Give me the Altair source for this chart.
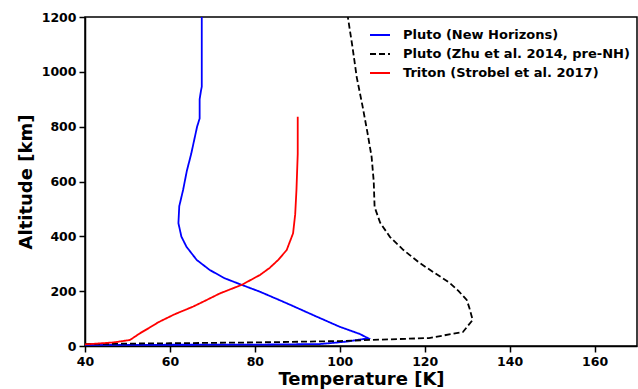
import altair as alt
import pandas as pd

# Pluto (New Horizons)
nh_T = [40, 60, 80, 95.3, 101.6, 106.7, 104.7, 100, 93.7, 87.5, 81.2, 76.9, 72.9, 69.4, 66.3, 63.9, 62.7, 62.0, 62.2, 63.1, 64.0, 65.0, 66.4, 67.0, 67.0, 67.3, 67.5, 67.5, 67.5]
nh_z = [4, 4.5, 5, 7, 16, 28, 44, 70, 113, 156, 198, 223, 247, 277, 314, 362, 399, 448, 510, 569, 640, 700, 800, 830, 900, 930, 946, 1050, 1200]

# Pluto (Zhu et al. 2014, pre-NH)
zhu_T = [40, 45, 60, 80, 100, 107, 121, 129, 131.3, 130.5, 129.9, 128, 125.9, 122, 118.8, 115, 111.8, 109.5, 108.2, 108, 107.5, 106.5, 105.4, 104, 103, 101.9]
zhu_z = [7, 8, 10, 13, 18, 22, 29, 51, 95, 140, 168, 200, 230, 270, 303, 350, 398, 450, 507, 600, 690, 780, 872, 980, 1090, 1200]

# Triton (Strobel et al. 2017)
tri_T = [40, 43, 46.7, 50.6, 52.9, 55, 57.2, 61, 65.5, 67.1, 71.8, 76.9, 81.2, 83.5, 85.5, 87.5, 89, 89.5, 89.8, 90.1, 90.1]
tri_z = [6, 9, 13, 22, 46, 65, 86, 115, 144, 156, 192, 223, 259, 285, 314, 350, 411, 480, 569, 700, 836]

names = ["Pluto (New Horizons)", "Pluto (Zhu et al. 2014, pre-NH)", "Triton (Strobel et al. 2017)"]
colors = ["#0000ff", "#000000", "#ff0000"]
dashes = [[1, 0], [6, 3], [1, 0]]

rows = []
for name, Ts, zs in zip(names, [nh_T, zhu_T, tri_T], [nh_z, zhu_z, tri_z]):
    for i, (t, z) in enumerate(zip(Ts, zs)):
        rows.append({"series": name, "T": t, "z": z, "i": i})
df = pd.DataFrame(rows)

FONT = "DejaVu Sans"

legend = alt.Legend(
    title=None, orient="none", legendX=284, legendY=7,
    symbolType="stroke", symbolSize=400, symbolStrokeWidth=2,
    labelFont=FONT, labelFontSize=13, labelFontWeight="bold", labelColor="black",
    labelOffset=12, rowPadding=1, padding=0, labelLimit=400,
)

chart = alt.Chart(df).mark_line(strokeWidth=1.8, clip=True).encode(
    x=alt.X("T:Q", title="Temperature [K]",
            scale=alt.Scale(domain=[40, 170], nice=False, zero=False),
            axis=alt.Axis(values=[40, 60, 80, 100, 120, 140, 160], grid=False, format="d")),
    y=alt.Y("z:Q", title="Altitude [km]",
            scale=alt.Scale(domain=[0, 1200], nice=False),
            axis=alt.Axis(values=[0, 200, 400, 600, 800, 1000, 1200], grid=False, format="d")),
    color=alt.Color("series:N", sort=names,
                    scale=alt.Scale(domain=names, range=colors), legend=legend),
    strokeDash=alt.StrokeDash("series:N", sort=names,
                              scale=alt.Scale(domain=names, range=dashes), legend=legend),
    order="i:Q",
).properties(
    width=552, height=329,
    autosize=alt.AutoSizeParams(type="none"),
    padding={"left": 85, "top": 17, "right": 1, "bottom": 43},
).configure_view(
    stroke="black", strokeWidth=1.5
).configure_axis(
    domainColor="black", domainWidth=1.5, tickColor="black", tickWidth=1.5, tickSize=6,
    labelFont=FONT, labelFontSize=12.5, labelFontWeight="bold", labelColor="black", labelPadding=3,
    labelFlush=False,
    titleFont=FONT, titleFontSize=18, titleFontWeight="bold", titleColor="black",
).configure_axisX(titlePadding=3).configure_axisY(titlePadding=6)

chart.save("out.html", embed_options={"renderer": "svg", "actions": False})
